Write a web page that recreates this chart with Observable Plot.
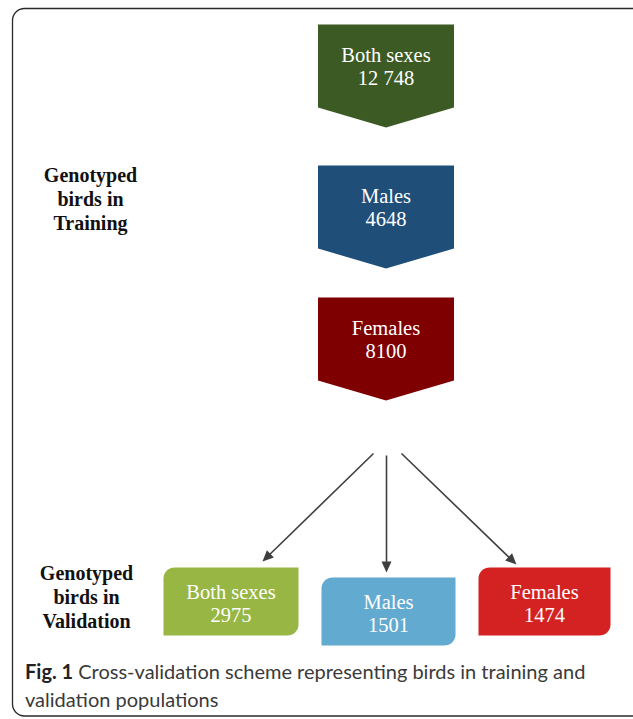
<!DOCTYPE html>
<html><head><meta charset="utf-8">
<script src="https://cdn.jsdelivr.net/npm/d3@7"></script>
<script src="https://cdn.jsdelivr.net/npm/@observablehq/plot@0.6"></script>
<style>
html,body{margin:0;padding:0;background:#fff;}
#wrap{position:relative;width:633px;height:719px;overflow:hidden;}
#wrap svg{position:absolute;left:0;top:0;}
#caption{position:absolute;left:25px;top:657px;width:610px;font-family:Lato,"Open Sans",sans-serif;font-size:20px;line-height:28px;color:#3a3a3a;white-space:nowrap;}
#caption b{color:#222;}
</style></head><body>
<div id="wrap"><div id="caption"><b>Fig. 1</b> Cross-validation scheme representing birds in training and<br>validation populations</div></div>
<script>
// ---- data ----
const trainingGroups = ["Both sexes", "Males", "Females"];
const trainingCounts = [12748, 4648, 8100];
const validationGroups = ["Both sexes", "Males", "Females"];
const validationCounts = [2975, 1501, 1474];
const stageLabels = ["Genotyped\nbirds in\nTraining", "Genotyped\nbirds in\nValidation"];

// ---- styles ----
const trainingColors = ["#3c5a24", "#1f4e79", "#7f0000"];
const validationColors = ["#98b643", "#62aad0", "#d42121"];

// ---- layout ----
const W = 633, H = 719;
const train = {x0: 317.5, x1: 453.5, tops: [24, 165, 297], bodyH: 83, tipH: 20};
const valid = {x0s: [163, 321, 478], widths: [135, 134, 132], tops: [567, 577, 567], h: 68, r: 11};
const arrowStarts = [[373, 453], [386, 455], [401, 453]];
const arrowEnds = [[262, 561], [386, 572], [516, 564]];
const stagePos = [[90, 198], [86, 596]];

const fmt = n => n >= 10000 ? d3.format(",")(n).replace(/,/g, " ") : String(n);

// pentagon shapes
const shapePts = [];
trainingGroups.forEach((g, i) => {
  const t = train.tops[i], b = t + train.bodyH, xc = (train.x0 + train.x1) / 2;
  [[train.x0, t], [train.x1, t], [train.x1, b], [xc, b + train.tipH], [train.x0, b], [train.x0, t]]
    .forEach(([x, y]) => shapePts.push({id: "t" + i, x, y, c: trainingColors[i]}));
});
// rounded-diagonal boxes
validationGroups.forEach((g, i) => {
  const x0 = valid.x0s[i], x1 = x0 + valid.widths[i], t = valid.tops[i], b = t + valid.h, r = valid.r;
  const pts = [];
  for (let k = 0; k <= 10; k++) { const a = Math.PI + k / 10 * Math.PI / 2; pts.push([x0 + r + r * Math.cos(a), t + r + r * Math.sin(a)]); }
  pts.push([x1, t]);
  for (let k = 0; k <= 10; k++) { const a = k / 10 * Math.PI / 2; pts.push([x1 - r + r * Math.cos(a), b - r + r * Math.sin(a)]); }
  pts.push([x0, b]);
  pts.push(pts[0]);
  pts.forEach(([x, y]) => shapePts.push({id: "v" + i, x, y, c: validationColors[i]}));
});

// arrows
const links = [], heads = [];
const headLen = 11, headHalf = 5;
arrowStarts.forEach((s, i) => {
  const e = arrowEnds[i];
  const dx = e[0] - s[0], dy = e[1] - s[1], L = Math.hypot(dx, dy), ux = dx / L, uy = dy / L;
  const bx = e[0] - ux * headLen, by = e[1] - uy * headLen;
  links.push({x1: s[0], y1: s[1], x2: bx + ux, y2: by + uy});
  [[e[0], e[1]], [bx - uy * headHalf, by + ux * headHalf], [bx + uy * headHalf, by - ux * headHalf], [e[0], e[1]]]
    .forEach(([x, y]) => heads.push({id: "h" + i, x, y}));
});

const trainText = trainingGroups.map((g, i) => ({
  x: (train.x0 + train.x1) / 2, y: train.tops[i] + train.bodyH / 2, t: g + "\n" + fmt(trainingCounts[i])
}));
const validText = validationGroups.map((g, i) => ({
  x: valid.x0s[i] + valid.widths[i] / 2, y: valid.tops[i] + valid.h / 2 + 1.5, t: g + "\n" + fmt(validationCounts[i])
}));
const stageText = stageLabels.map((t, i) => ({x: stagePos[i][0], y: stagePos[i][1], t}));

const chart = Plot.plot({
  width: W, height: H, margin: 0,
  x: {domain: [0, W], range: [0, W], axis: null},
  y: {domain: [0, H], range: [0, H], axis: null},
  color: {type: "identity"},
  marks: [
    Plot.rect([0], {x1: () => 12.5, x2: () => 700, y1: () => 8.5, y2: () => 716, rx: 12, fill: "none", stroke: "#2a2a2a", strokeWidth: 1.3}),
    Plot.line(shapePts, {x: "x", y: "y", z: "id", fill: "c", stroke: null, curve: "linear"}),
    Plot.link(links, {x1: "x1", y1: "y1", x2: "x2", y2: "y2", stroke: "#3f3f3f", strokeWidth: 1.6}),
    Plot.line(heads, {x: "x", y: "y", z: "id", fill: "#3f3f3f", stroke: null}),
    Plot.text(trainText, {x: "x", y: "y", text: "t", fill: "white", fontSize: 20.5, fontFamily: "Liberation Serif, serif", lineHeight: 1.12}),
    Plot.text(validText, {x: "x", y: "y", text: "t", fill: "white", fontSize: 20.5, fontFamily: "Liberation Serif, serif", lineHeight: 1.12}),
    Plot.text(stageText, {x: "x", y: "y", text: "t", fill: "#111", fontSize: 20, fontWeight: "bold", fontFamily: "Liberation Serif, serif", lineHeight: 1.2})
  ]
});
document.getElementById("wrap").prepend(chart);
</script>
</body></html>
